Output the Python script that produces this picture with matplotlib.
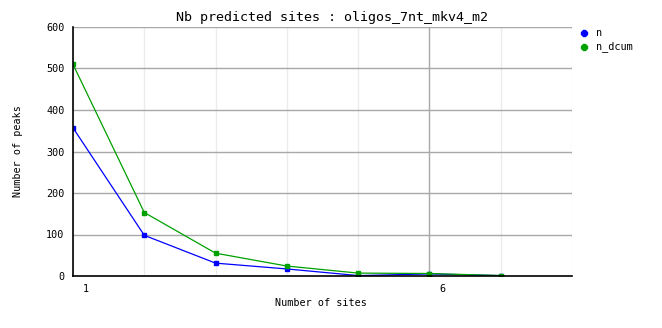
import matplotlib
matplotlib.use("Agg")
import matplotlib.pyplot as plt
import matplotlib.transforms as mtransforms
from matplotlib.lines import Line2D

sites = [1, 2, 3, 4, 5, 6, 7]
n = [357, 98, 31, 17, 1, 5, 1]
n_dcum = [510, 153, 55, 24, 7, 6, 1]
series_names = ["n", "n_dcum"]
title = "Nb predicted sites : oligos_7nt_mkv4_m2"
xlabel = "Number of sites"
ylabel = "Number of peaks"
yticks = [0, 100, 200, 300, 400, 500, 600]
xticks = [1, 6]

W, H = 662, 328
fig = plt.figure(figsize=(W / 100, H / 100), dpi=100)
mono = "DejaVu Sans Mono"

ax = fig.add_axes([73 / W, 52 / H, 499 / W, 249 / H])
ax.set_xlim(1, 8)
ax.set_ylim(0, 600)

# grid lines
for xv in range(1, 9):
    col = "#a8a8a8" if xv in xticks[1:] else "#ececec"
    ax.axvline(xv, color=col, lw=1, zorder=1)
for yv in yticks[1:]:
    ax.axhline(yv, color="#a8a8a8", lw=1, zorder=1)

blue = "#0000ff"
green = "#00a000"
ax.plot(sites, n, color=blue, lw=0.9, marker="s", ms=3, zorder=3)
ax.plot(sites, n_dcum, color=green, lw=0.9, marker="s", ms=3, zorder=3)

for s in ["top", "right"]:
    ax.spines[s].set_visible(False)
ax.spines["left"].set_color("black")
ax.spines["bottom"].set_color("black")
ax.spines["left"].set_linewidth(1.2)
ax.spines["bottom"].set_linewidth(1.2)
ax.spines["left"].set_zorder(4)
ax.spines["bottom"].set_zorder(4)

ax.set_yticks(yticks)
ax.set_yticklabels([str(v) for v in yticks], fontfamily=mono, fontsize=7.3)
ax.set_xticks(xticks)
ax.set_xticklabels([str(v) for v in xticks], fontfamily=mono, fontsize=7.3)
ax.tick_params(axis="both", length=0)
ax.tick_params(axis="y", pad=6)
ax.tick_params(axis="x", pad=6)
offset = mtransforms.ScaledTranslation(13 / 100, 0, fig.dpi_scale_trans)
for lab in ax.get_xticklabels():
    lab.set_transform(lab.get_transform() + offset)

fig.text(332 / W, 1 - 18 / H, title, fontfamily=mono, fontsize=9.6,
         ha="center", va="center")
fig.text(321 / W, 1 - 303 / H, xlabel, fontfamily=mono, fontsize=7.3,
         ha="center", va="center")
fig.text(18 / W, 1 - 151 / H, ylabel, fontfamily=mono, fontsize=7.3,
         ha="center", va="center", rotation=90)

# legend
for i, (name, col) in enumerate(zip(series_names, [blue, green])):
    y = 1 - (33 + 14 * i) / H
    fig.add_artist(Line2D([584 / W], [y], marker="8", color=col, ms=4.5,
                          transform=fig.transFigure))
    fig.text(596 / W, y, name, fontfamily=mono, fontsize=7.3,
             ha="left", va="center")

fig.savefig("out.png", dpi=100)
